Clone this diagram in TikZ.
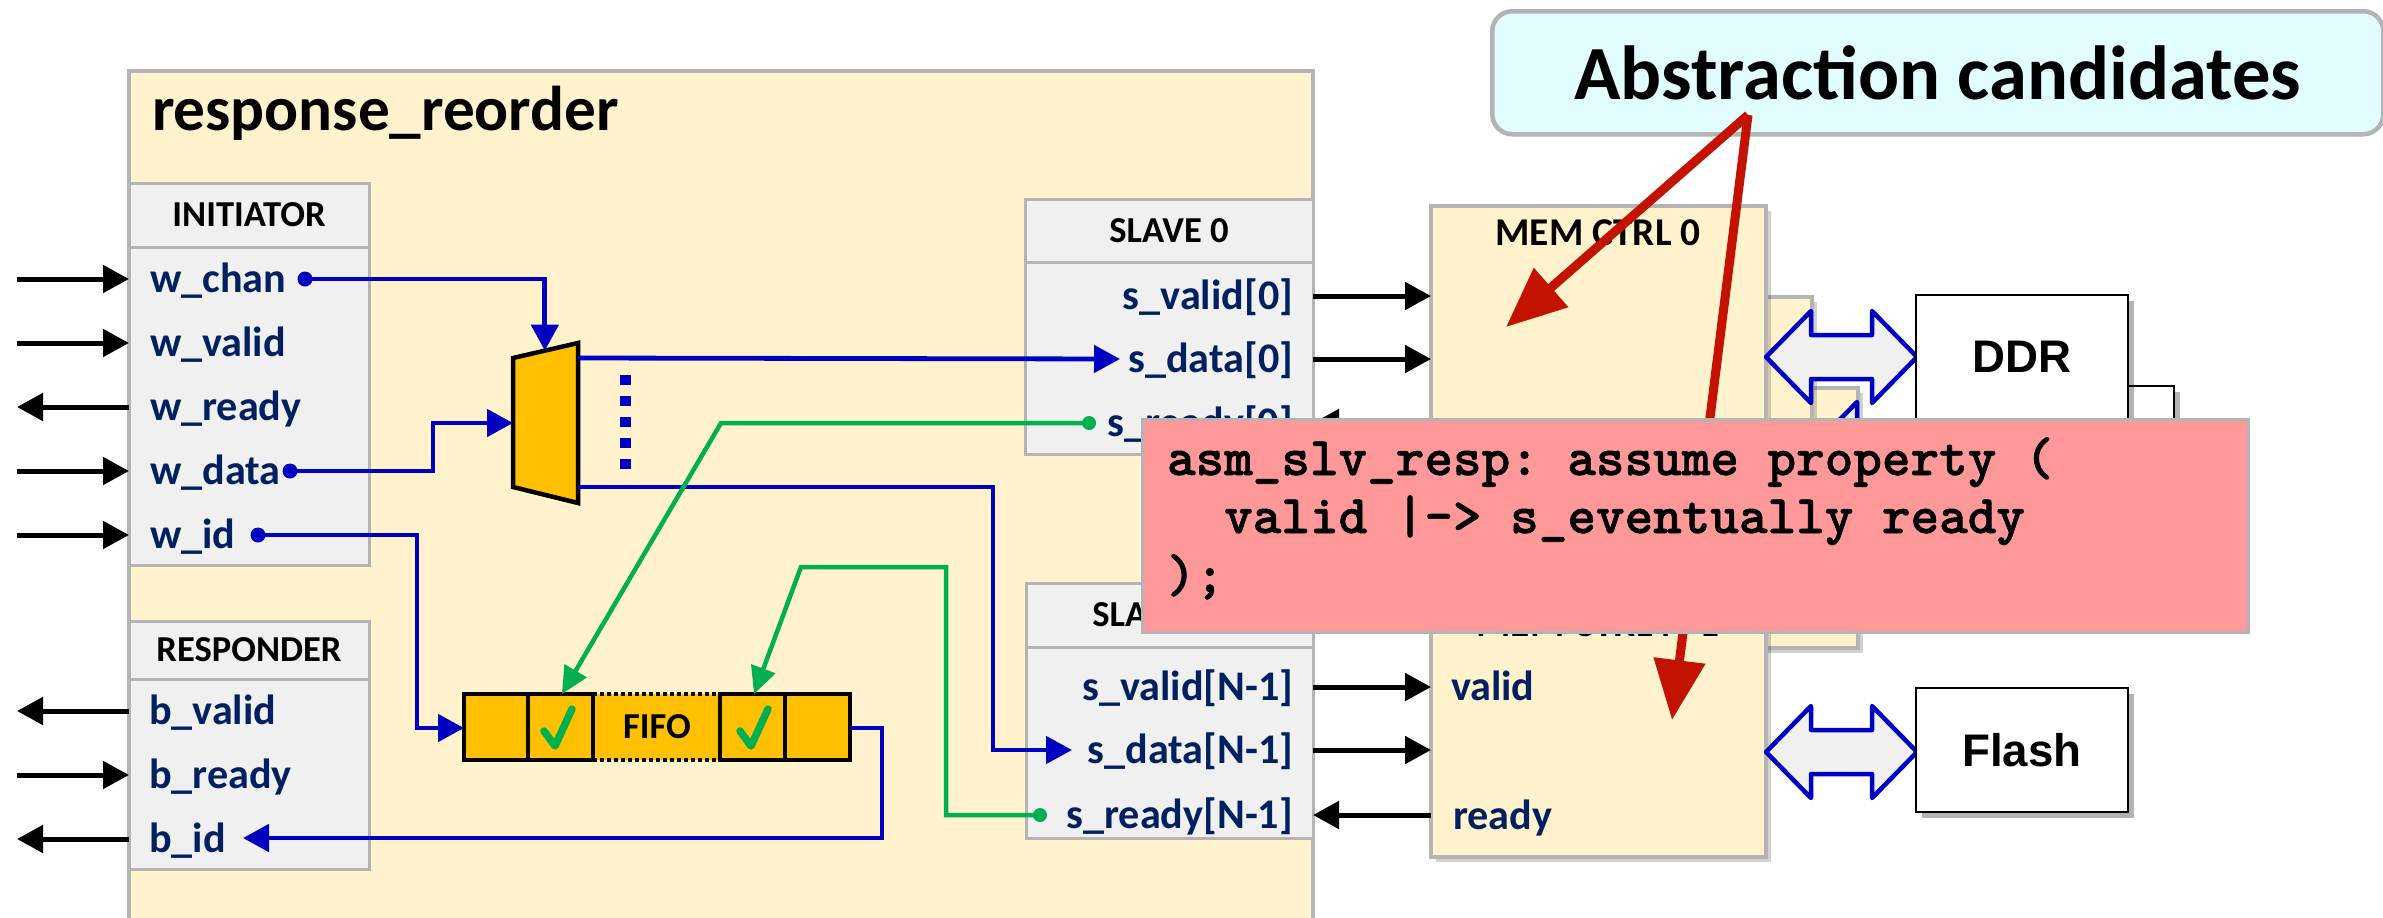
\documentclass[tikz,border=0pt]{standalone}
\usepackage{fontspec}
\setmainfont{Carlito}
\newfontfamily\arialfamily{Liberation Sans}
\newfontfamily\codefam{lmmonolt10-bold.otf}[FakeBold=1.2]
\usetikzlibrary{arrows.meta,shadows,calc}

\definecolor{blockfill}{RGB}{255,242,204}
\definecolor{portfill}{RGB}{240,240,240}
\definecolor{edgegray}{RGB}{180,180,180}
\definecolor{signavy}{RGB}{0,32,96}
\definecolor{busblue}{RGB}{0,0,192}
\definecolor{hsgreen}{RGB}{0,176,80}
\definecolor{muxorange}{RGB}{255,192,0}
\definecolor{callred}{RGB}{196,18,0}
\definecolor{notepink}{RGB}{255,153,153}
\definecolor{candcyan}{RGB}{225,253,255}

\newcommand\dgsig{\bfseries\fontsize{12}{14}\selectfont}
\newcommand\dghead{\bfseries\fontsize{10.4}{12}\selectfont}
\newcommand\dgmem{\bfseries\fontsize{11.2}{13}\selectfont}
\newcommand\dgtitle{\bfseries\fontsize{18}{21}\selectfont}
\newcommand\dgcand{\bfseries\fontsize{21.8}{25}\selectfont}
\newcommand\dgdev{\arialfamily\bfseries\fontsize{13}{15}\selectfont}
\newcommand\dgcode{\codefam\fontsize{15.5}{16.6}\selectfont}

% fixed character pitch of the assertion listing
\newlength\cw
\setlength\cw{2.86mm}
\newcommand\col[2]{\makebox[#1\cw][l]{#2}}

% bidirectional link arrow: #1 = left tip x, #2 = centre y
\newcommand\linkarrow[2]{%
  \draw[linkstyle] (#1,#2) -- ++(45,-46) -- ++(0,24) -- ++(61,0) -- ++(0,-24)
    -- ++(45,46) -- ++(-45,46) -- ++(0,-24) -- ++(-61,0) -- ++(0,24) -- cycle;}

\tikzset{
  block/.style={draw=edgegray, line width=0.4mm, fill=blockfill, inner sep=0pt, outer sep=0pt},
  porthead/.style={draw=edgegray, line width=0.3mm, fill=portfill, inner sep=0pt, outer sep=0pt, font=\dghead},
  portbody/.style={draw=edgegray, line width=0.3mm, fill=portfill, inner sep=0pt, outer sep=0pt},
  memcard/.style={draw=edgegray, line width=0.45mm, fill=blockfill, inner sep=0pt, outer sep=0pt,
    drop shadow={shadow xshift=0.5mm, shadow yshift=-0.5mm, opacity=0.18, fill=black}},
  devbox/.style={draw=black, line width=0.2mm, fill=white, inner sep=0pt, outer sep=0pt, font=\dgdev,
    drop shadow={shadow xshift=0.6mm, shadow yshift=-0.6mm, opacity=0.3, fill=black}},
  sig/.style={inner sep=0pt, outer sep=0pt, text=signavy, font=\dgsig},
  label/.style={inner sep=0pt, outer sep=0pt, text=black},
  wire/.style={line width=0.5mm, -{Triangle[length=2.6mm,width=2.7mm]}},
  bus/.style={busblue, line width=0.48mm, -{Triangle[length=2.6mm,width=2.7mm]}},
  hs/.style={hsgreen, line width=0.45mm, -{Triangle[length=2.7mm,width=2.5mm]}},
  busdot/.style={fill=busblue},
  hsdot/.style={fill=hsgreen},
  tick/.style={hsgreen, line width=0.75mm, line cap=round, line join=round},
  fifoedge/.style={draw=black, line width=0.45mm},
  linkstyle/.style={draw=busblue, fill=portfill, line width=0.45mm, line join=round},
  pointer/.style={callred, line width=0.9mm, -{Triangle[length=6mm,width=5mm]}},
}

\begin{document}
\begin{tikzpicture}[x=0.1mm, y=-0.1mm]
\useasboundingbox (0,0) rectangle (2383,917);

% ---------------- response_reorder block ----------------
\node[block, anchor=north west, minimum width=118.4mm, minimum height=90mm] (rr) at (129,71) {};
\node[label, font=\dgtitle, anchor=base west] (rrtitle) at (152,130) {response\_reorder};

% INITIATOR port group
\node[porthead, anchor=north west, minimum width=24mm, minimum height=6.4mm] (inithead) at (129,183) {INITIATOR};
\node[portbody, anchor=north west, minimum width=24mm, minimum height=31.8mm] (initbody) at (inithead.south west) {};
\foreach \name/\txt/\y in {wchan/w\_chan/279, wvalid/w\_valid/343, wready/w\_ready/407, wdata/w\_data/471, wid/w\_id/535} {
  \node[sig, anchor=base west] (\name) at (150,\y+13) {\txt};
  \coordinate (\name-row) at (129,\y);
  \coordinate (\name-ext) at (17,\y);
}

% RESPONDER port group
\node[porthead, anchor=north west, minimum width=24mm, minimum height=5.8mm] (resphead) at (129,621) {RESPONDER};
\node[portbody, anchor=north west, minimum width=24mm, minimum height=19mm] (respbody) at (resphead.south west) {};
\foreach \name/\txt/\y in {bvalid/b\_valid/711, bready/b\_ready/775, bid/b\_id/839} {
  \node[sig, anchor=base west] (\name) at (149,\y+13) {\txt};
  \coordinate (\name-row) at (129,\y);
  \coordinate (\name-ext) at (17,\y);
}

% SLAVE 0 port group
\node[porthead, anchor=north west, minimum width=28.8mm, minimum height=6.3mm] (s0head) at (1025,199) {SLAVE 0};
\node[portbody, anchor=north west, minimum width=28.8mm, minimum height=19.2mm] (s0body) at (s0head.south west) {};
\foreach \name/\txt/\y in {s0valid/s\_valid[0]/296, s0data/s\_data[0]/359, s0ready/s\_ready[0]/423} {
  \node[sig, anchor=base east] (\name) at (1293,\y+13) {\txt};
  \coordinate (\name-row) at (1313,\y);
}

% SLAVE N-1 port group
\node[porthead, anchor=north west, minimum width=28.7mm, minimum height=6.4mm] (snhead) at (1026,583) {SLAVE N-1};
\node[portbody, anchor=north west, minimum width=28.7mm, minimum height=19.1mm] (snbody) at (snhead.south west) {};
\foreach \name/\txt/\y in {snvalid/s\_valid[N-1]/687, sndata/s\_data[N-1]/750, snready/s\_ready[N-1]/815} {
  \node[sig, anchor=base east] (\name) at (1293,\y+13) {\txt};
  \coordinate (\name-row) at (1313,\y);
}

% inbound ends of the data buses, just left of the port names
\coordinate (s0data-in) at (1120,359);
\coordinate (sndata-in) at (1072,750);
\coordinate (bid-in) at (243,838);

% ---------------- multiplexer ----------------
\coordinate (muxTL) at (513,358);
\coordinate (muxTR) at (578,343);
\coordinate (muxBR) at (578,503);
\coordinate (muxBL) at (513,487);
\draw[fill=muxorange, draw=black, line width=0.45mm, line join=miter] (muxTL) -- (muxTR) -- (muxBR) -- (muxBL) -- cycle;
\coordinate (mux-sel) at ($(muxTL)!0.49!(muxTR)$);
\coordinate (mux-in) at (513,423);
\coordinate (mux-out0) at (578,358);
\coordinate (mux-outN) at (578,487);

% ---------------- FIFO ----------------
\node[fill=muxorange, inner sep=0pt, outer sep=0pt, anchor=north west, minimum width=38.6mm, minimum height=6.6mm] (fifo) at (464,694) {};
\draw[fifoedge] (464,694) rectangle (593,760);
\draw[fifoedge] (720,694) rectangle (850,760);
\draw[fifoedge] (528,694) -- (528,760);
\draw[fifoedge] (785,694) -- (785,760);
\draw[black, line width=0.45mm, dash pattern=on 0.35mm off 0.35mm] (593,694) -- (720,694) (593,760) -- (720,760);
\node[label, font=\dghead] (fifolabel) at (fifo.center) {FIFO};
\coordinate (cell1-top) at (562,694);
\coordinate (cell2-top) at (754,694);
\draw[tick] (544,731) -- (555,746) -- (572,709);
\draw[tick] (740,731) -- (751,746) -- (768,709);

% ---------------- blue data paths ----------------
\coordinate (wchan-dot) at (305,279);
\coordinate (wdata-dot) at (290,471);
\coordinate (wid-dot) at (258,535);
\fill[busdot] (wchan-dot) circle[radius=0.75mm];
\fill[busdot] (wdata-dot) circle[radius=0.75mm];
\fill[busdot] (wid-dot) circle[radius=0.75mm];
\draw[bus] (wchan-dot) -| (mux-sel);
\draw[bus] (wdata-dot) -- (433,471) |- (mux-in);
\draw[bus] (mux-out0) -- (s0data-in);
\draw[bus] (mux-outN) -| (993,750) -- (sndata-in);
\draw[bus] (wid-dot) -| (417,728) -- (fifo.west |- 0,728);
\draw[bus] (fifo.east |- 0,728) -- (882,728) |- (bid-in);
\draw[busblue, line width=1.1mm, dash pattern=on 1mm off 1.1mm] (625,375) -- (625,470);

% ---------------- green handshake paths ----------------
\coordinate (s0ready-dot) at (1089,423);
\coordinate (snready-dot) at (1040,815);
\fill[hsdot] (s0ready-dot) circle[radius=0.7mm];
\fill[hsdot] (snready-dot) circle[radius=0.7mm];
\draw[hs] (s0ready-dot) -- (721,423) -- (cell1-top);
\draw[hs] (snready-dot) -- (946,815) -- (946,567) -- (801,567) -- (cell2-top);

% ---------------- port wires of response_reorder ----------------
\draw[wire] (wchan-ext) -- (wchan-row);
\draw[wire] (wvalid-ext) -- (wvalid-row);
\draw[wire] (wready-row) -- (wready-ext);
\draw[wire] (wdata-ext) -- (wdata-row);
\draw[wire] (wid-ext) -- (wid-row);
\draw[wire] (bvalid-row) -- (bvalid-ext);
\draw[wire] (bready-ext) -- (bready-row);
\draw[wire] (bid-row) -- (bid-ext);

% ---------------- memory controller stack ----------------
\foreach \k in {2,1} {
  \node[memcard, anchor=north west, minimum width=33.5mm, minimum height=26mm] (mc\k) at ({1431+46*\k},{206+91*\k}) {};
  \linkarrow{{1766+46*\k}}{{357+91*\k}}
  \node[devbox, anchor=north west, minimum width=21.2mm, minimum height=12.4mm] (ddr\k) at ({1916+46*\k},{295+91*\k}) {};
}
\node[memcard, anchor=north west, minimum width=33.5mm, minimum height=26mm] (mc0) at (1431,206) {};
\node[label, font=\dgmem] (mc0title) at (1598,233) {MEM CTRL 0};
\linkarrow{1766}{357}
\node[devbox, anchor=north west, minimum width=21.2mm, minimum height=12.4mm] (ddr0) at (1916,295) {DDR};

\node[memcard, anchor=north west, minimum width=33.5mm, minimum height=26mm] (mcN) at (1431,597) {};
\node[label, font=\dgmem] (mcNtitle) at (1598,624) {MEM CTRL N-1};
\node[sig, anchor=base west] (mcNvalid) at (1451,700) {valid};
\node[sig, anchor=base west] (mcNready) at (1453,829) {ready};
\linkarrow{1766}{752}
\node[devbox, anchor=north west, minimum width=21.2mm, minimum height=12.4mm] (flash) at (1916,688) {Flash};

% slave to controller wires
\draw[wire] (s0valid-row) -- (s0valid-row -| mc0.west);
\draw[wire] (s0data-row) -- (s0data-row -| mc0.west);
\draw[wire] (s0ready-row -| mc0.west) -- (s0ready-row);
\draw[wire] (snvalid-row) -- (snvalid-row -| mcN.west);
\draw[wire] (sndata-row) -- (sndata-row -| mcN.west);
\draw[wire] (snready-row -| mcN.west) -- (snready-row);

% ---------------- abstraction callout ----------------
\node[draw=edgegray, line width=0.45mm, fill=candcyan, rounded corners=2mm, inner sep=0pt,
      anchor=north west, minimum width=89.1mm, minimum height=12.3mm, font=\dgcand] (cand) at (1490,9) {Abstraction candidates};
\coordinate (candfoot) at (1748,115);
\coordinate (mc0spot) at (1506,327);
\coordinate (mcNspot) at (1672,720);
\draw[pointer] (candfoot) -- (mc0spot);
\draw[pointer] (candfoot) -- (mcNspot);

% ---------------- assumption note ----------------
\node[draw=edgegray, line width=0.3mm, fill=notepink, inner sep=0pt, anchor=north west,
      minimum width=110.6mm, minimum height=21.3mm] (prop) at (1141,418) {};
\node[label, font=\dgcode, anchor=base west] (propl1) at (1167,475)
  {\col{14}{asm\_slv\_resp:}\col{7}{assume}\col{9}{property}(};
\node[label, font=\dgcode, anchor=base west] (propl2) at (1167,533)
  {\hspace*{2\cw}\col{6}{valid}\col{4}{|->}\col{13}{s\_eventually}ready};
\node[label, font=\dgcode, anchor=base west] (propl3) at (1167,592) {);};
\end{tikzpicture}
\end{document}
